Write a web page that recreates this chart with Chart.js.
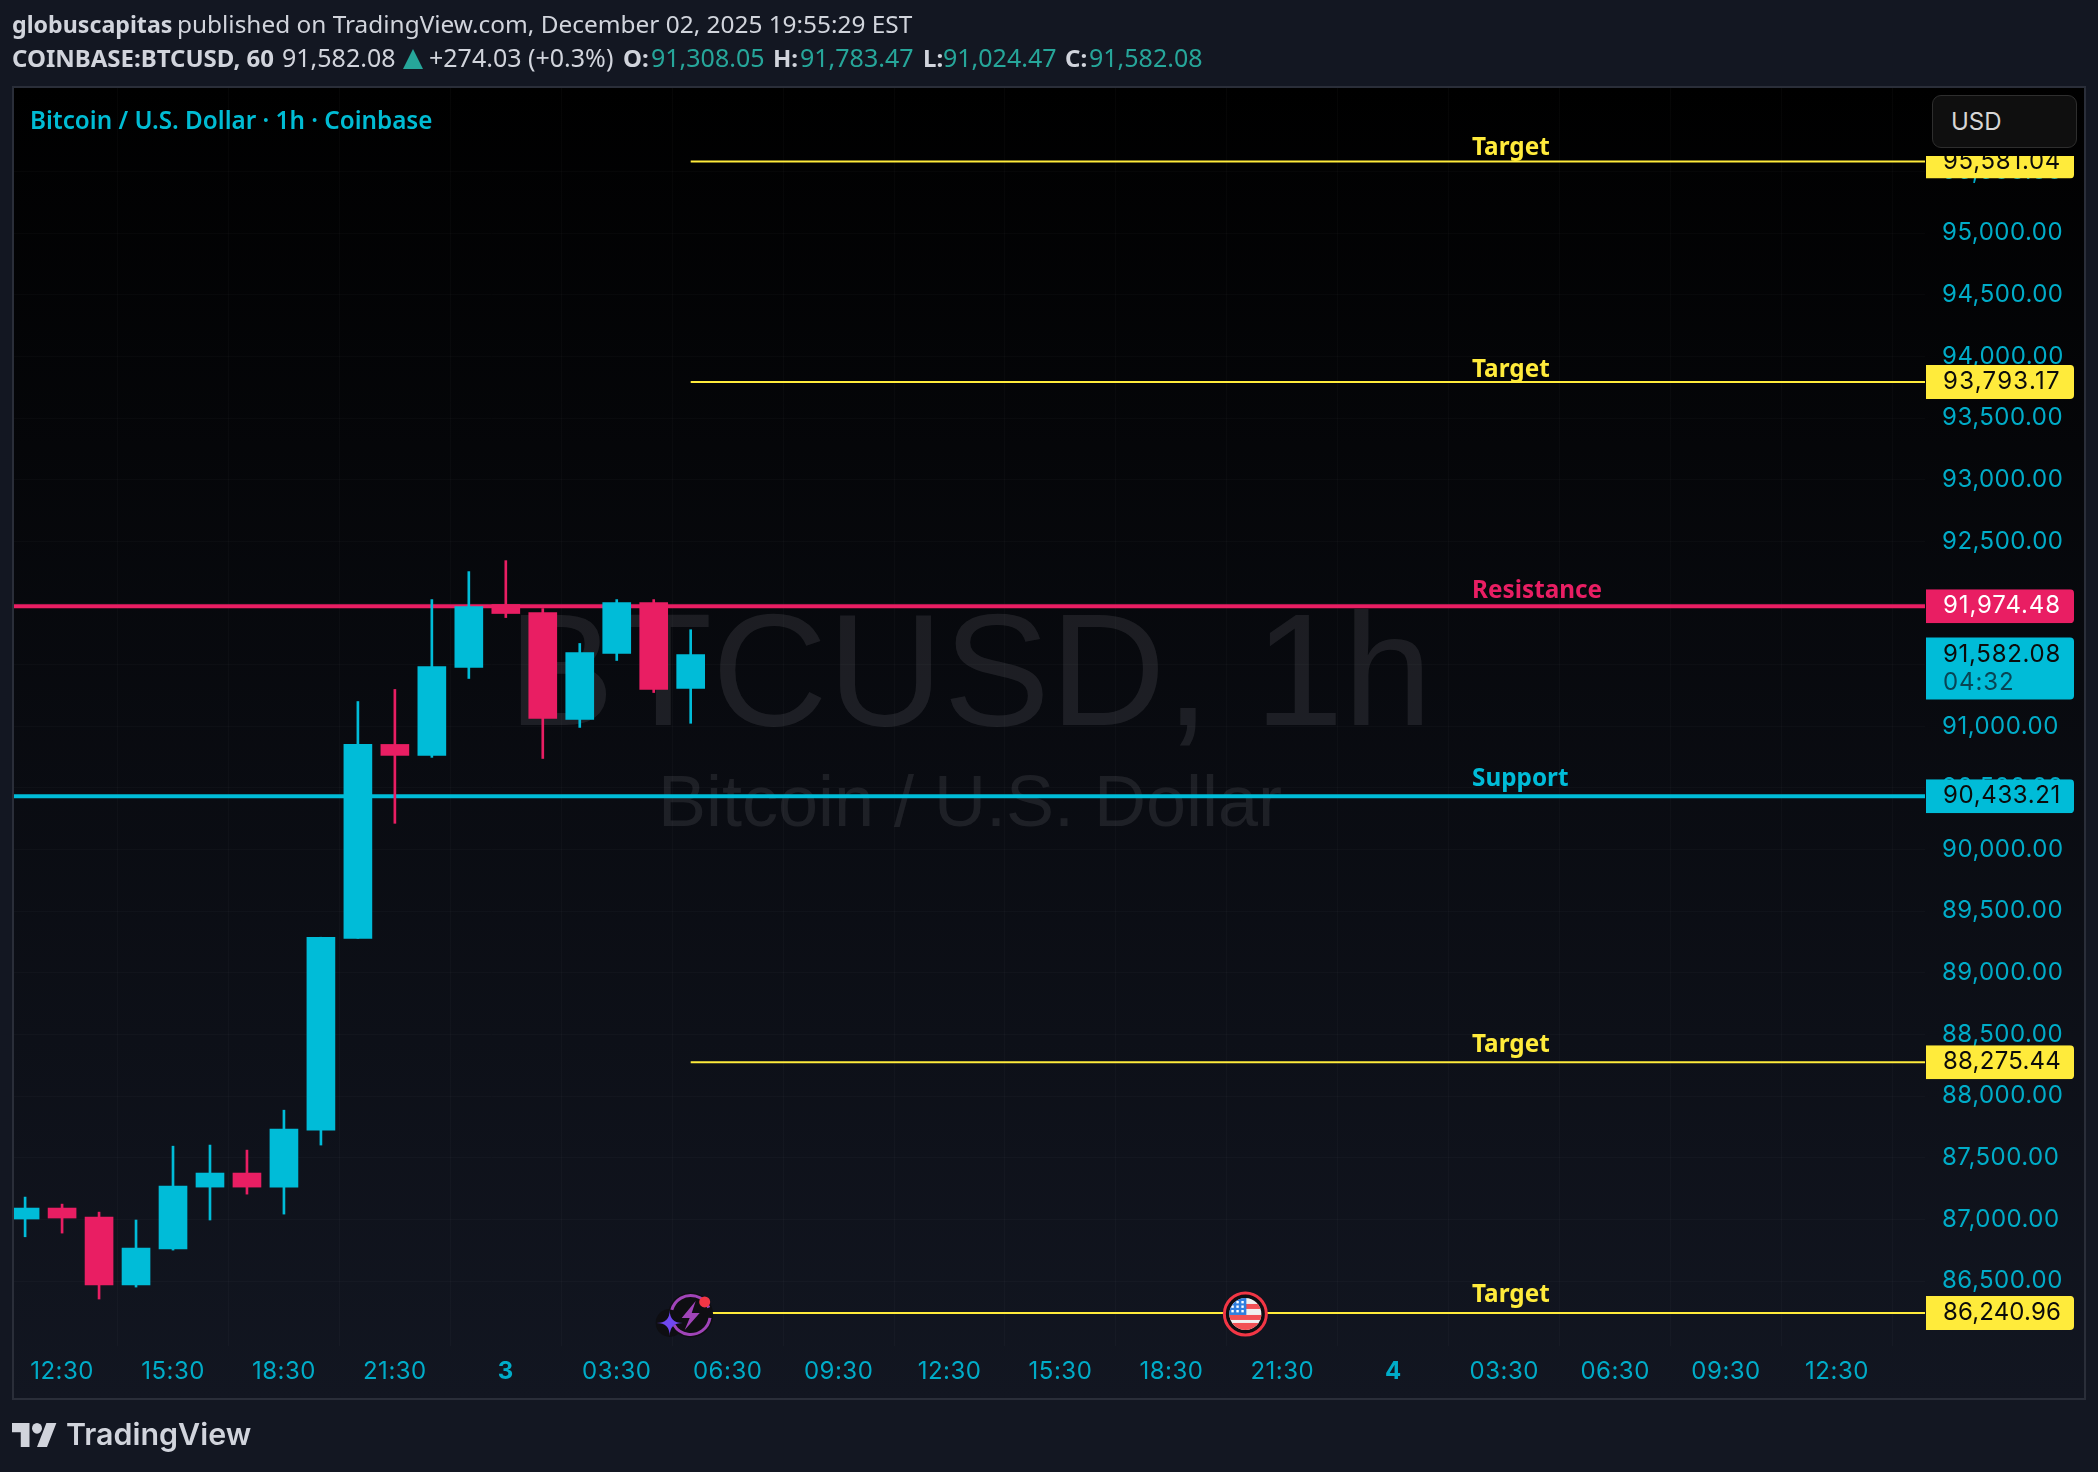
<!DOCTYPE html>
<html>
<head>
<meta charset="utf-8">
<title>BTCUSD 1h</title>
<script src="https://cdn.jsdelivr.net/npm/chart.js@4"></script>
<style>
  html, body { margin: 0; padding: 0; background: #131722; }
  body { width: 2098px; height: 1472px; position: relative; overflow: hidden; }
  canvas { position: absolute; left: 0; top: 0; }
  .head { position: absolute; left: 0; height: 34px; width: 1300px; font-family: "Noto Sans", sans-serif; font-size: 24.4px; color: #d1d4dc; white-space: nowrap; }
  .head span { position: absolute; top: 0; }
  .head b { font-weight: 700; font-size: 24px; }
  .teal { color: #26a69a; }
  #tri { width: 0; height: 0; top: 9px; border-left: 10px solid transparent; border-right: 10px solid transparent; border-bottom: 20px solid #26a69a; }
  #line1 { top: 7px; }
  #line2 { top: 40px; font-size: 25px; }
  #title { position: absolute; left: 30px; top: 103px; font-family: "Noto Sans", sans-serif; font-weight: 600; font-size: 24.25px; color: #00bcd4; white-space: nowrap; }
  #usd { position: absolute; left: 1932px; top: 95px; width: 145px; height: 53px; box-sizing: border-box; background: #0f0f0f; border: 1.5px solid #2e2e2e; border-radius: 9px; color: #d6d6d6; font-family: Inter, sans-serif; font-size: 24px; line-height: 52px; padding-left: 18px; }
  #logo { position: absolute; left: 12px; top: 1423px; }
  #brand { position: absolute; left: 66px; top: 1416px; font-family: Inter, sans-serif; font-weight: 600; font-size: 30.4px; color: #d1d4dc; white-space: nowrap; }
</style>
</head>
<body>
<canvas id="chart" width="2098" height="1472"></canvas>
<div class="head" id="line1"><span style="left:12px"><b style="font-size:23.2px">globuscapitas</b></span><span style="left:177px">published on TradingView.com, December 02, 2025 19:55:29 EST</span></div>
<div class="head" id="line2">
  <span style="left:12px"><b>COINBASE:BTCUSD, 60</b></span>
  <span style="left:282px">91,582.08</span>
  <span id="tri" style="left:403px"></span>
  <span style="left:429px">+274.03 (+0.3%)</span>
  <span style="left:623px"><b>O:</b></span><span class="teal" style="left:651px">91,308.05</span>
  <span style="left:773px"><b>H:</b></span><span class="teal" style="left:800px">91,783.47</span>
  <span style="left:923px"><b>L:</b></span><span class="teal" style="left:943px">91,024.47</span>
  <span style="left:1065px"><b>C:</b></span><span class="teal" style="left:1089px">91,582.08</span>
</div>
<div id="title">Bitcoin / U.S. Dollar · 1h · Coinbase</div>
<div id="usd">USD</div>
<svg id="logo" width="45" height="24" viewBox="0 4 36 18" preserveAspectRatio="none"><path fill="#d1d4dc" d="M14 22H7V11H0V4h14v18zM28 22h-8l7.5-18h8L28 22z"/><circle fill="#d1d4dc" cx="20" cy="8" r="4"/></svg>
<div id="brand">TradingView</div>
<script>
// Velas de 1h, la primera es 11:30
const opens  = [87003, 87092, 87019, 86468, 86760, 87262, 87376, 87262, 87724, 89280, 90853, 90764, 91477, 91988, 91923, 91056, 91591, 92004, 91308.05];
const highs  = [87181, 87124, 87059, 86995, 87594, 87603, 87562, 87886, 89289, 91201, 91299, 92028, 92255, 92344, 91955, 91672, 92028, 92028, 91783.47];
const lows   = [86859, 86889, 86354, 86451, 86751, 86995, 87205, 87043, 87603, 89280, 90213, 90748, 91388, 91882, 90739, 90991, 91534, 91274, 91024.47];
const closes = [87092, 87011, 86468, 86768, 87270, 87376, 87262, 87732, 89289, 90853, 90764, 91485, 91971, 91915, 91064, 91599, 92004, 91299, 91582.08];

const xTickPos    = [1, 4, 7, 10, 13, 16, 19, 22, 25, 28, 31, 34, 37, 40, 43, 46, 49];
const xTickLabels = ["12:30", "15:30", "18:30", "21:30", "3", "03:30", "06:30", "09:30", "12:30", "15:30", "18:30", "21:30", "4", "03:30", "06:30", "09:30", "12:30"];
const yTickValues = [95500, 95000, 94500, 94000, 93500, 93000, 92500, 92000, 91500, 91000, 90500, 90000, 89500, 89000, 88500, 88000, 87500, 87000, 86500];

const levelValues = [95581.04, 93793.17, 91974.48, 90433.21, 88275.44, 86240.96];
const levelNames  = ["Target", "Target", "Resistance", "Support", "Target", "Target"];

const lastPrice = 91582.08;
const countdown = "04:32";

const CYAN = "#00bcd8";
const PINK = "#e91e63";
const YELLOW = "#ffeb3b";
const TICK_COLOR = "#00acc8";
const AXIS_FONT = "Inter, sans-serif";

const X_MIN = -0.3;
const X_MAX = 51.38;
const Y_MIN = 85973;
const Y_MAX = 96178;
const LABEL_INDEX = 39.13;
// Separación de cada rótulo respecto a su línea
const LABEL_GAPS = [14, 12, 14.7, 17, 17.3, 18];
const PRICE_TEXT_WIDTH = 118;

function levelColor(name) {
  if (name === "Resistance") return PINK;
  if (name === "Support") return CYAN;
  return YELLOW;
}

function fmt(v) {
  return v.toLocaleString("en-US", { minimumFractionDigits: 2, maximumFractionDigits: 2 });
}

function candleColor(i) {
  return closes[i] >= opens[i] ? CYAN : PINK;
}

const candleIdx = opens.map((_, i) => i);

// Cuerpos y mechas como barras flotantes
const bodies = {
  type: "bar",
  data: candleIdx.map((i) => ({ x: i, y: [opens[i], closes[i]] })),
  backgroundColor: candleIdx.map(candleColor),
  barThickness: 28,
  grouped: false,
  order: 1,
};
const wicks = {
  type: "bar",
  data: candleIdx.map((i) => ({ x: i, y: [lows[i], highs[i]] })),
  backgroundColor: candleIdx.map(candleColor),
  barThickness: 2,
  grouped: false,
  order: 2,
};
const levels = levelValues.map((v, i) => {
  const isTarget = levelNames[i] === "Target";
  return {
    type: "line",
    data: [{ x: isTarget ? candleIdx.length - 1 : X_MIN, y: v }, { x: X_MAX, y: v }],
    borderColor: levelColor(levelNames[i]),
    borderWidth: isTarget ? 2 : 4,
    pointRadius: 0,
    order: 3,
  };
});

function roundBox(ctx, x, y, w, h, fill) {
  ctx.fillStyle = fill;
  ctx.beginPath();
  ctx.roundRect(x, y, w, h, [0, 4, 4, 0]);
  ctx.fill();
}

// Las cifras del eje de TradingView son tabulares: se ajusta el espaciado al ancho fijo
function priceText(ctx, text, x, y) {
  ctx.letterSpacing = "0px";
  const gap = (PRICE_TEXT_WIDTH - ctx.measureText(text).width) / text.length;
  ctx.letterSpacing = gap.toFixed(2) + "px";
  ctx.fillText(text, x, y);
  ctx.letterSpacing = "0px";
}

function starPath(ctx, sx, sy, r) {
  ctx.beginPath();
  ctx.moveTo(sx, sy - r);
  ctx.quadraticCurveTo(sx, sy, sx + r, sy);
  ctx.quadraticCurveTo(sx, sy, sx, sy + r);
  ctx.quadraticCurveTo(sx, sy, sx - r, sy);
  ctx.quadraticCurveTo(sx, sy, sx, sy - r);
}

function drawBoltIcon(ctx, x, y) {
  ctx.save();
  const cx = x, cy = y + 2;
  ctx.fillStyle = "#0e0e12";
  ctx.beginPath();
  ctx.arc(cx, cy, 22.5, 0, Math.PI * 2);
  ctx.fill();
  ctx.beginPath();
  ctx.arc(x - 21, y + 10, 14, 0, Math.PI * 2);
  ctx.fill();
  ctx.strokeStyle = "#a044b8";
  ctx.lineWidth = 3;
  ctx.beginPath();
  ctx.arc(cx, cy, 19.5, 0.15, 2.6);
  ctx.stroke();
  ctx.beginPath();
  ctx.arc(cx, cy, 19.5, 3.4, 5.9);
  ctx.stroke();
  ctx.fillStyle = "#a044b8";
  ctx.beginPath();
  ctx.moveTo(cx + 5, cy - 14);
  ctx.lineTo(cx - 9, cy + 3);
  ctx.lineTo(cx - 1, cy + 3);
  ctx.lineTo(cx - 6, cy + 15);
  ctx.lineTo(cx + 9, cy - 2);
  ctx.lineTo(cx + 1, cy - 2);
  ctx.closePath();
  ctx.fill();
  ctx.fillStyle = "#7048f0";
  starPath(ctx, x - 21, y + 10, 13);
  ctx.fill();
  ctx.fillStyle = "#f23645";
  ctx.beginPath();
  ctx.arc(x + 14, y - 11, 5.5, 0, Math.PI * 2);
  ctx.fill();
  ctx.restore();
}

function drawFlagIcon(ctx, x, y) {
  ctx.save();
  ctx.fillStyle = "#0e0e12";
  ctx.beginPath();
  ctx.arc(x, y + 1, 21, 0, Math.PI * 2);
  ctx.fill();
  ctx.strokeStyle = "#f23645";
  ctx.lineWidth = 3;
  ctx.beginPath();
  ctx.arc(x, y + 1, 21, 0, Math.PI * 2);
  ctx.stroke();
  ctx.beginPath();
  ctx.arc(x, y + 1, 16, 0, Math.PI * 2);
  ctx.clip();
  ctx.fillStyle = "#f0f0f0";
  ctx.fillRect(x - 17, y - 16, 34, 34);
  ctx.fillStyle = "#f25055";
  ctx.fillRect(x, y - 9, 17, 5);
  ctx.fillRect(x - 17, y + 2, 34, 5);
  ctx.fillRect(x - 17, y + 10, 34, 8);
  ctx.fillStyle = "#2f7fe0";
  ctx.fillRect(x - 17, y - 16, 18, 18);
  ctx.fillStyle = "#ffffff";
  for (let r = 0; r < 3; r++) {
    for (let c = 0; c < 3; c++) {
      ctx.fillRect(x - 14 + c * 5, y - 12 + r * 4.5, 2.4, 2.4);
    }
  }
  ctx.restore();
}

const chromePlugin = {
  id: "chrome",
  beforeDraw(chart) {
    const ctx = chart.ctx;
    const grad = ctx.createLinearGradient(0, 88, 0, 1398);
    grad.addColorStop(0, "#000000");
    grad.addColorStop(1, "#121621");
    ctx.fillStyle = grad;
    ctx.fillRect(14, 88, 2071, 1310);
    ctx.strokeStyle = "#2a2e39";
    ctx.lineWidth = 2;
    ctx.strokeRect(13, 87, 2072, 1312);
    ctx.letterSpacing = "0.5px";
  },
  beforeDatasetsDraw(chart) {
    const ctx = chart.ctx;
    ctx.save();
    ctx.letterSpacing = "0px";
    ctx.textAlign = "center";
    ctx.textBaseline = "alphabetic";
    ctx.fillStyle = "rgba(178,181,190,0.12)";
    ctx.font = '160px "Liberation Sans", sans-serif';
    ctx.fillText("BTCUSD, 1h", 970, 725);
    ctx.font = '72px "Liberation Sans", sans-serif';
    ctx.fillText("Bitcoin / U.S. Dollar", 970, 826);
    ctx.restore();
  },
  afterDraw(chart) {
    const ctx = chart.ctx;
    const yS = chart.scales.y;
    const xS = chart.scales.x;
    const labelX = xS.getPixelForValue(LABEL_INDEX);
    ctx.letterSpacing = "0px";

    drawBoltIcon(ctx, xS.getPixelForValue(18), yS.getPixelForValue(levelValues[5]));
    drawFlagIcon(ctx, xS.getPixelForValue(33), yS.getPixelForValue(levelValues[5]));

    levelValues.forEach((v, i) => {
      const y = yS.getPixelForValue(v);
      const name = levelNames[i];
      const color = levelColor(name);
      ctx.save();
      ctx.font = '700 24.3px "Noto Sans", sans-serif';
      ctx.fillStyle = color;
      ctx.textAlign = "left";
      ctx.textBaseline = "middle";
      ctx.fillText(name, labelX, y - LABEL_GAPS[i]);

      // La etiqueta de arriba queda cortada por el borde del USD
      const top = Math.max(y - 17, 156);
      ctx.beginPath();
      ctx.rect(1926, top, 148, y + 17 - top);
      ctx.clip();
      roundBox(ctx, 1926, y - 17, 148, 34, color);
      ctx.font = "24px " + AXIS_FONT;
      ctx.fillStyle = name === "Resistance" ? "#ffffff" : "#0b0b0b";
      priceText(ctx, fmt(v), 1943, y);
      ctx.restore();
    });

    const py = yS.getPixelForValue(lastPrice);
    ctx.save();
    roundBox(ctx, 1926, py - 17, 148, 62, CYAN);
    ctx.font = "24px " + AXIS_FONT;
    ctx.textAlign = "left";
    ctx.textBaseline = "middle";
    ctx.fillStyle = "#0b0b0b";
    priceText(ctx, fmt(lastPrice), 1943, py);
    ctx.fillStyle = "#084555";
    ctx.letterSpacing = "0.9px";
    ctx.fillText(countdown, 1943, py + 28);
    ctx.restore();
  },
};

new Chart(document.getElementById("chart"), {
  data: { datasets: [bodies, wicks, ...levels] },
  plugins: [chromePlugin],
  options: {
    responsive: false,
    animation: false,
    devicePixelRatio: 1,
    layout: { padding: { left: 14, top: 88, right: 0, bottom: 0 } },
    plugins: { legend: { display: false }, tooltip: { enabled: false } },
    scales: {
      x: {
        type: "linear",
        min: X_MIN,
        max: X_MAX,
        offset: false,
        afterBuildTicks: (axis) => {
          axis.ticks = xTickPos.map((v) => ({ value: v }));
        },
        afterFit: (axis) => {
          axis.height = 126;
        },
        grid: { color: "rgba(255,255,255,0.025)", drawTicks: false },
        border: { display: false },
        ticks: {
          color: TICK_COLOR,
          padding: 11,
          maxRotation: 0,
          autoSkip: false,
          font: (c) => {
            const lab = xTickLabels[c.index];
            return { family: AXIS_FONT, size: 24, weight: lab && lab.length === 1 ? "700" : "400" };
          },
          callback: (v, i) => xTickLabels[i],
        },
      },
      y: {
        position: "right",
        min: Y_MIN,
        max: Y_MAX,
        afterBuildTicks: (axis) => {
          axis.ticks = yTickValues.map((v) => ({ value: v }));
        },
        afterFit: (axis) => {
          axis.width = 173;
        },
        grid: { color: "rgba(255,255,255,0.025)", drawTicks: false },
        border: { display: false },
        ticks: {
          color: TICK_COLOR,
          padding: 17,
          autoSkip: false,
          font: { family: AXIS_FONT, size: 24 },
          callback: (v) => fmt(v),
        },
      },
    },
  },
});
</script>
</body>
</html>
